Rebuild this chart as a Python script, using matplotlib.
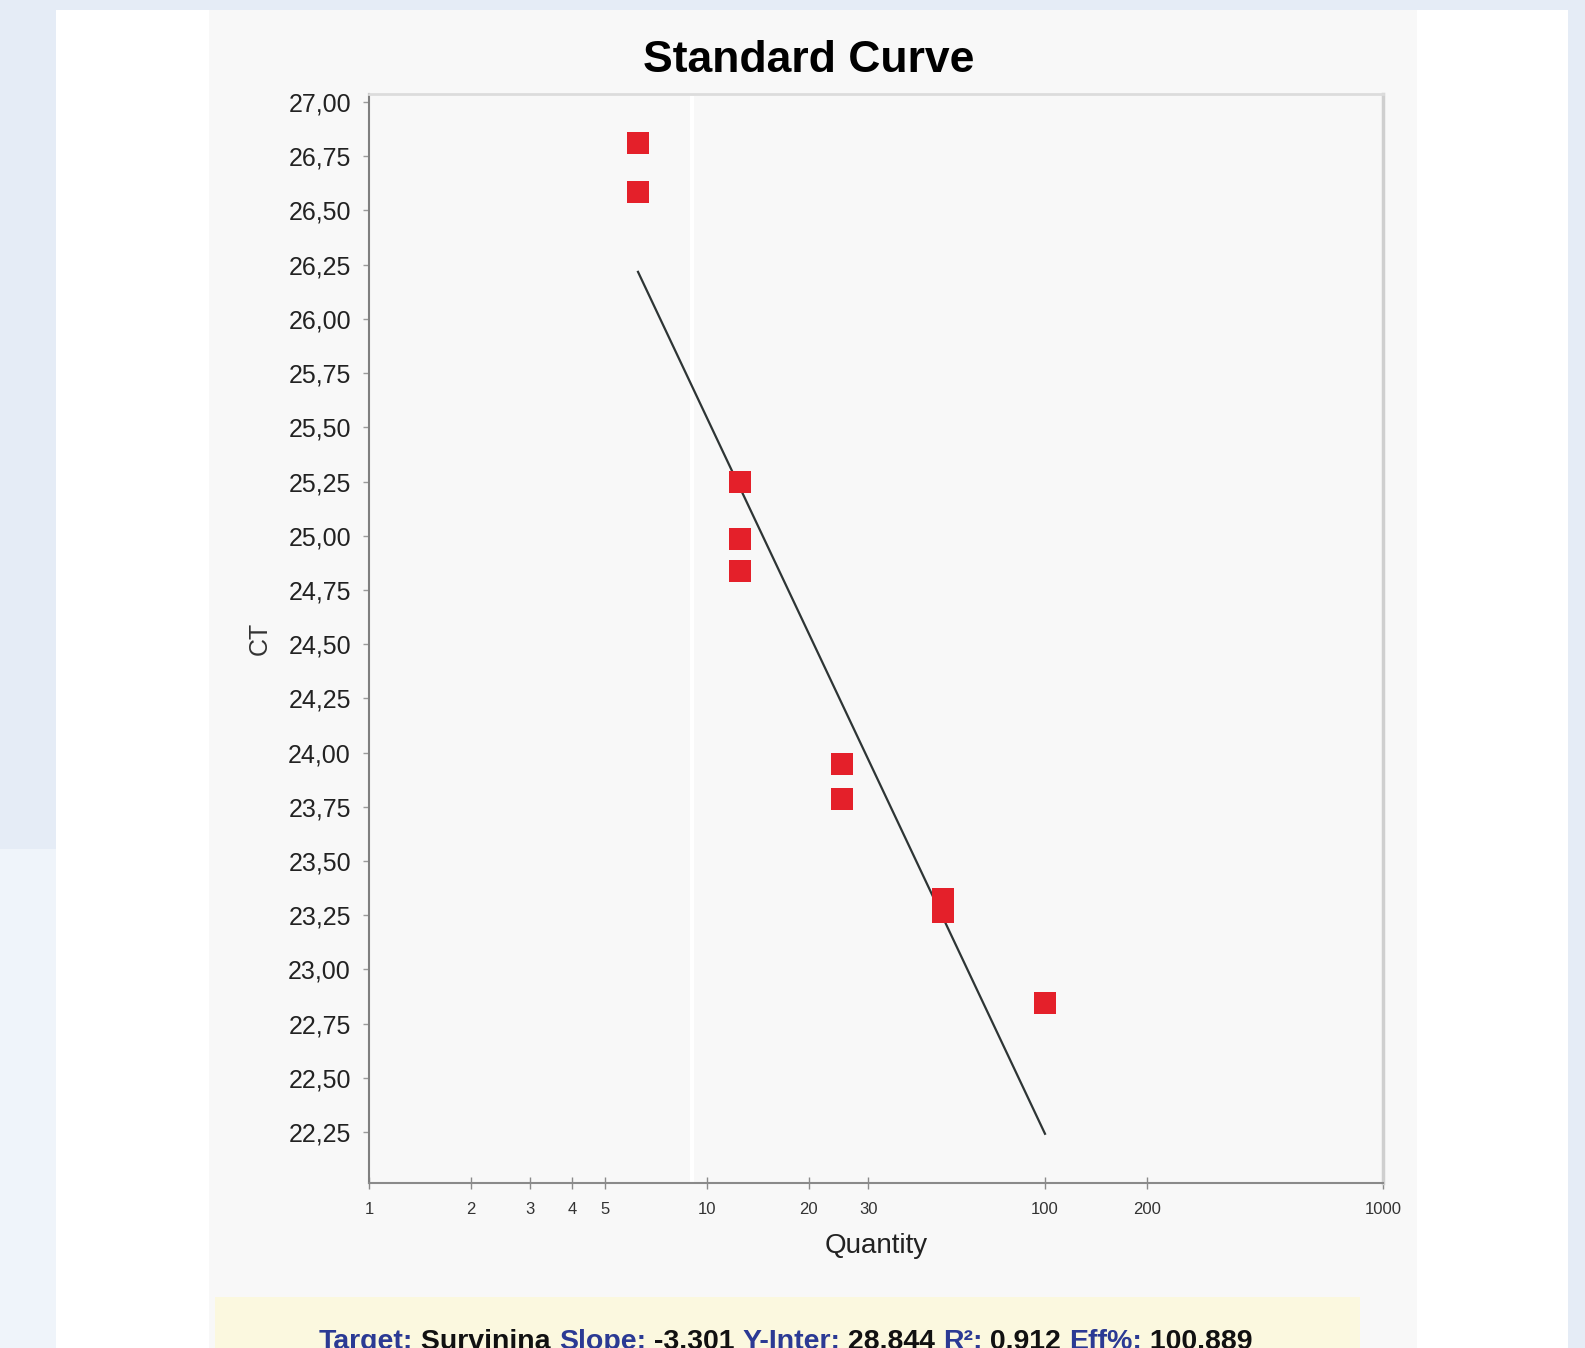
import matplotlib
matplotlib.use("Agg")
import matplotlib.pyplot as plt
import numpy as np
from matplotlib.patches import Rectangle
from matplotlib.ticker import FixedLocator, FuncFormatter, NullLocator

plt.rcParams['font.family'] = ['Liberation Sans', 'DejaVu Sans']

# data
quantity = [6.25, 6.25, 12.5, 12.5, 12.5, 25, 25, 50, 50, 100]
ct = [26.81, 26.585, 25.25, 24.985, 24.836, 23.945, 23.786, 23.326, 23.266, 22.846]

# regression values shown under the chart
slope = -3.301
y_inter = 28.844
r2 = 0.912
eff = 100.889
fit_range = [6.25, 100]

x_ticks = [1, 2, 3, 4, 5, 10, 20, 30, 100, 200, 1000]
y_ticks = [22.25 + 0.25 * i for i in range(20)]

W, H = 1585, 1348
fig = plt.figure(figsize=(W / 100, H / 100), dpi=100)
fig.patch.set_facecolor("#e5ecf6")

def box(x0, y0, x1, y1, color):
    # pixel box (top-left origin) -> figure fraction
    fig.add_artist(Rectangle((x0 / W, 1 - y1 / H), (x1 - x0) / W, (y1 - y0) / H,
                             transform=fig.transFigure, facecolor=color,
                             edgecolor="none", zorder=-10))

box(0, 849, 56, H, "#eff4fa")
box(56, 10, 1568, H, "#ffffff")
box(209, 10, 1417, H, "#f8f8f8")
box(215, 1297, 1360, H, "#fbf8df")

ax = fig.add_axes([369 / W, 1 - 1183 / H, (1383 - 369) / W, (1183 - 94) / H])
ax.set_facecolor("#f8f8f8")
ax.set_xscale("log")
ax.set_xlim(1, 1000)
ax.set_ylim(22.015, 27.037)

ax.axvline(9, color="#ffffff", lw=3, zorder=0)

xf = np.array(fit_range)
ax.plot(xf, slope * np.log10(xf) + y_inter, color="#2e3535", lw=1.6, zorder=2)
ax.plot(quantity, ct, "s", color="#e4202a", markersize=16, markeredgewidth=0, zorder=3)

ax.xaxis.set_major_locator(FixedLocator(x_ticks))
ax.xaxis.set_minor_locator(NullLocator())
ax.xaxis.set_major_formatter(FuncFormatter(lambda v, p: "%d" % v))
ax.yaxis.set_major_locator(FixedLocator(y_ticks))
ax.yaxis.set_major_formatter(FuncFormatter(lambda v, p: ("%.2f" % v).replace(".", ",")))

ax.tick_params(axis="x", direction="inout", length=8, width=1, color="#8a8a8a",
               labelsize=12, pad=10, labelcolor="#333333")
ax.tick_params(axis="y", direction="out", length=4, width=1, color="#9a9a9a",
               labelsize=18, pad=9, labelcolor="#222222")

ax.spines["left"].set_color("#7f7f7f")
ax.spines["left"].set_linewidth(1.5)
ax.spines["bottom"].set_color("#8a8a8a")
ax.spines["bottom"].set_linewidth(1.5)
ax.spines["top"].set_color("#dcdcdc")
ax.spines["top"].set_linewidth(2)
ax.spines["right"].set_color("#cfcfcf")
ax.spines["right"].set_linewidth(2.5)

ax.set_xlabel("Quantity", fontsize=20, color="#222222", labelpad=11)
ax.set_ylabel("CT", fontsize=18, color="#333333", labelpad=12)

fig.text(809 / W, 1 - 60 / H, "Standard Curve", fontsize=32, fontweight="bold",
         ha="center", va="center")

# summary line, blue labels and black values
parts = [("Target:", "#2b3a94"), (" Survinina ", "#111111"), ("Slope:", "#2b3a94"),
         (" -3.301 ", "#111111"), ("Y-Inter:", "#2b3a94"), (" 28.844 ", "#111111"),
         ("R²:", "#2b3a94"), (" 0.912 ", "#111111"), ("Eff%:", "#2b3a94"),
         (" 100.889", "#111111")]
fam = ["Liberation Sans Narrow", "Liberation Sans"]
fs = 20.5
prev = fig.text(319 / W, 1 - 1349 / H, parts[0][0], color=parts[0][1], fontsize=fs,
                fontweight="bold", family=fam, va="baseline")
for s, c in parts[1:]:
    prev = ax.annotate(s, xy=(1, 0), xycoords=prev, va="bottom", ha="left",
                       color=c, fontsize=fs, fontweight="bold", family=fam,
                       annotation_clip=False)

fig.savefig("out.png", dpi=100)
